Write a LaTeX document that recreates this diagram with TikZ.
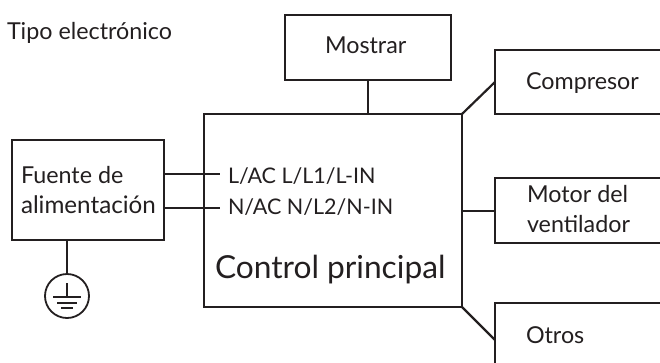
\documentclass[tikz,border=0pt]{standalone}
\usepackage{fontspec}
\setmainfont{Lato}
\definecolor{ink}{HTML}{231F20}
\tikzset{
  x=1pt,y=-1pt,
  box/.style={draw=ink,line width=2.2pt,fill=white,rectangle,inner sep=0pt,outer sep=0pt,anchor=north west},
  wire/.style={draw=ink,line width=2.2pt},
  thinwire/.style={draw=ink,line width=1.8pt},
  lbl/.style={text=ink,inner sep=0pt,outer sep=0pt,anchor=base west,font=\fontsize{23.3}{26}\selectfont},
  widelbl/.style={lbl,font=\fontsize{24.2}{26}\selectfont},
  pinlbl/.style={lbl,font=\fontsize{21.5}{24}\selectfont},
  biglbl/.style={lbl,font=\fontsize{31.7}{36}\selectfont},
}
\begin{document}
\begin{tikzpicture}
\useasboundingbox (0,0) rectangle (660,362);
\clip (0,0) rectangle (660,362);
\node[box,minimum width=166pt,minimum height=65pt] (disp) at (285,15) {};
\node[box,minimum width=258pt,minimum height=193pt] (ctrl) at (204,114) {};
\node[box,minimum width=180pt,minimum height=64pt] (comp) at (495,50) {};
\node[box,minimum width=180pt,minimum height=65pt] (fan) at (495,178) {};
\node[box,minimum width=180pt,minimum height=80pt] (otros) at (495,303) {};
\node[box,minimum width=152pt,minimum height=100pt] (psu) at (12,140) {};
\node[draw=ink,line width=1.8pt,circle,minimum size=44pt,inner sep=0pt,outer sep=0pt] (gnd) at (67,296) {};
\coordinate (l) at (220,174);
\coordinate (n) at (220,208);
\coordinate (fanin) at (495,211);
\coordinate (otin) at (495,340);
\draw[wire] (disp.south) -- (disp.south |- ctrl.north);
\draw[wire] (psu.east |- l) -- (l);
\draw[wire] (psu.east |- n) -- (n);
\draw[wire] (gnd.north |- psu.south) -- (gnd.north);
\draw[wire] (ctrl.north east) -- (comp.west);
\draw[wire] (ctrl.east |- fanin) -- (fanin);
\draw[wire] (ctrl.south east) -- (otin);
\coordinate (g0) at (67,283);
\coordinate (g1) at (67,297);
\draw[thinwire] (g0) -- (g1);
\draw[thinwire] (53,297) -- (81,297);
\draw[thinwire] (57,303) -- (77,303);
\draw[thinwire] (61,308) -- (73,308);
\node[lbl] (t0) at (7,39) {Tipo electrónico};
\node[lbl] (t1) at (325,53.5) {Mostrar};
\node[lbl] (t2) at (526,89) {Compresor};
\node[lbl] (t3) at (527,202) {Motor del};
\node[lbl] (t4) at (527,232) {ventilador};
\node[lbl] (t5) at (526,343) {Otros};
\node[lbl] (t6) at (21,183) {Fuente de};
\node[widelbl] (t7) at (21,213) {alimentación};
\node[pinlbl] (t8) at (228,183) {L/AC L/L1/L-IN};
\node[pinlbl] (t9) at (228,214) {N/AC N/L2/N-IN};
\node[biglbl] (t10) at (215,278) {Control principal};
\end{tikzpicture}
\end{document}
